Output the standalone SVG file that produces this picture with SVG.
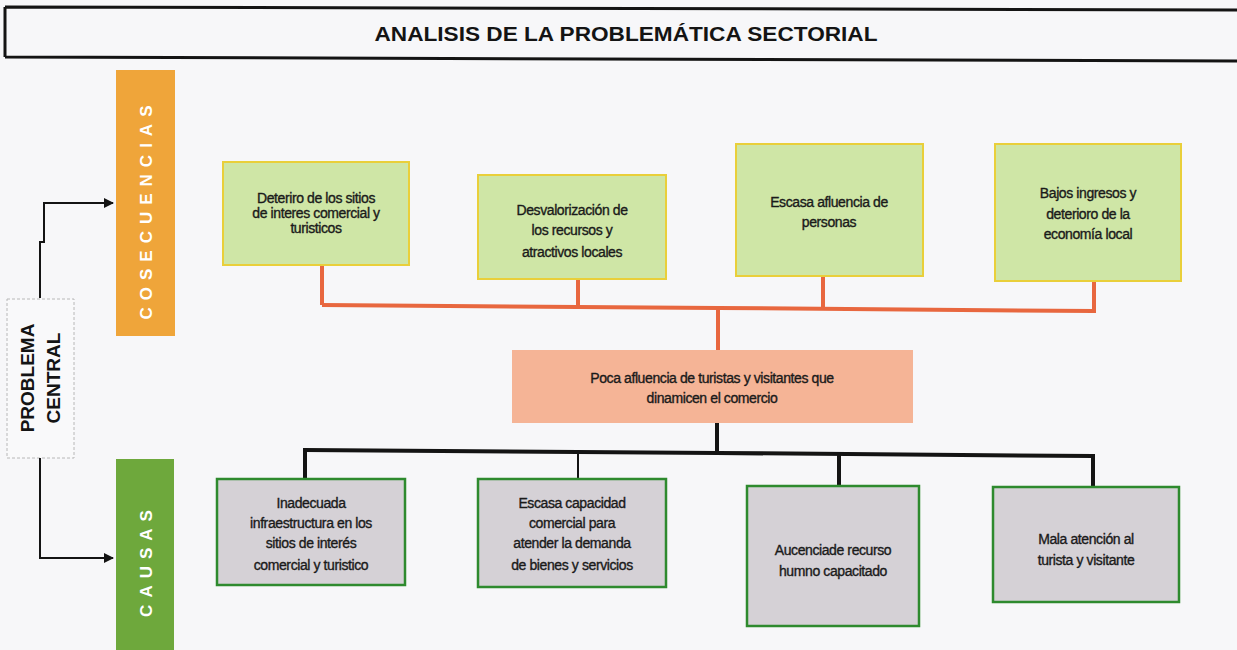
<svg xmlns="http://www.w3.org/2000/svg" width="1237" height="650" viewBox="0 0 1237 650">
<style>
.t{font-family:"Liberation Sans",Arial,sans-serif;font-size:14px;fill:#1a1a1a;stroke:#1a1a1a;stroke-width:0.35px;text-anchor:middle;letter-spacing:-0.4px}
.cons{fill:#CFE6A6;stroke:#E9CF3A;stroke-width:2}
.cause{fill:#D5D1D6;stroke:#2E8A2E;stroke-width:2.5}
.side{font-family:"Liberation Sans",Arial,sans-serif;font-size:17px;font-weight:bold;fill:#ffffff;text-anchor:middle;letter-spacing:7px}
.org{fill:none;stroke:#E8673F;stroke-width:4}
.blk{fill:none;stroke:#141414;stroke-width:4}
.arr{fill:none;stroke:#141414;stroke-width:2}
</style>
<defs>
<marker id="ah" markerWidth="10" markerHeight="10" refX="9" refY="5" orient="auto" markerUnits="userSpaceOnUse">
<path d="M0,0 L10,5 L0,10 z" fill="#141414"/>
</marker>
</defs>
<rect x="0" y="0" width="1237" height="650" fill="#F7F7F9"/>
<g id="title">
<path d="M5,7 L1240,10 M5,57 L1240,61 M5,7 L5,57" fill="none" stroke="#141414" stroke-width="3"/>
<text x="626" y="41" font-family="'Liberation Sans',Arial,sans-serif" font-size="21" font-weight="bold" fill="#141414" text-anchor="middle" textLength="503" lengthAdjust="spacingAndGlyphs">ANALISIS DE LA PROBLEMÁTICA SECTORIAL</text>
</g>
<g id="cosecuencias-bar">
<rect x="116" y="70" width="59" height="266" fill="#EFA53A"/>
<text class="side" transform="translate(152,209) rotate(-90)">COSECUENCIAS</text>
</g>
<g id="causas-bar">
<rect x="116" y="459" width="58" height="191" fill="#6EA83C"/>
<text class="side" transform="translate(152,560) rotate(-90)">CAUSAS</text>
</g>
<g id="problema-central">
<rect x="7" y="299" width="67" height="159" fill="#F9F9FA" stroke="#B8B8B8" stroke-width="1" stroke-dasharray="3,2"/>
<text transform="translate(34,378) rotate(-90)" font-family="'Liberation Sans',Arial,sans-serif" font-size="19" font-weight="bold" fill="#141414" text-anchor="middle">PROBLEMA</text>
<text transform="translate(60,378) rotate(-90)" font-family="'Liberation Sans',Arial,sans-serif" font-size="19" font-weight="bold" fill="#141414" text-anchor="middle">CENTRAL</text>
</g>
<g id="connectors">
<polyline class="arr" points="40,298 40,242 44,242 44,203 113,203" marker-end="url(#ah)"/>
<polyline class="arr" points="40,458 40,558 113,558" marker-end="url(#ah)"/>
<polyline class="org" points="322,305 718,308 1094,311"/>
<line class="org" x1="322" y1="265" x2="322" y2="305"/>
<line class="org" x1="578" y1="279" x2="578" y2="307"/>
<line class="org" x1="823" y1="276" x2="823" y2="310"/>
<line class="org" x1="1094" y1="281" x2="1094" y2="313"/>
<line class="org" x1="718" y1="308" x2="718" y2="350"/>
<line class="blk" x1="717" y1="423" x2="717" y2="453"/>
<polyline class="blk" points="305,450 717,453 1093,456"/>
<line class="blk" x1="305" y1="448" x2="305" y2="479"/>
<line x1="578" y1="451" x2="578" y2="479" stroke="#141414" stroke-width="2"/>
<line class="blk" x1="839" y1="454" x2="839" y2="486"/>
<line class="blk" x1="1093" y1="454" x2="1093" y2="487"/>
</g>
<g id="c1">
<rect class="cons" x="223" y="162" width="186" height="103"/>
<text class="t" x="316" y="203">Deteriro de los sitios</text>
<text class="t" x="316" y="218">de interes comercial y</text>
<text class="t" x="316" y="233">turisticos</text>
</g>
<g id="c2">
<rect class="cons" x="478" y="175" width="188" height="104"/>
<text class="t" x="572" y="215">Desvalorización de</text>
<text class="t" x="572" y="235">los recursos y</text>
<text class="t" x="572" y="257">atractivos locales</text>
</g>
<g id="c3">
<rect class="cons" x="736" y="144" width="187" height="132"/>
<text class="t" x="829" y="207">Escasa afluencia de</text>
<text class="t" x="829" y="227">personas</text>
</g>
<g id="c4">
<rect class="cons" x="995" y="144" width="186" height="137"/>
<text class="t" x="1088" y="198">Bajos ingresos y</text>
<text class="t" x="1088" y="219">deterioro de la</text>
<text class="t" x="1088" y="239">economía local</text>
</g>
<g id="core">
<rect x="512" y="350" width="401" height="73" fill="#F5B496"/>
<text class="t" x="712" y="383">Poca afluencia de turistas y visitantes que</text>
<text class="t" x="712" y="403">dinamicen el comercio</text>
</g>
<g id="k1">
<rect class="cause" x="217" y="479" width="188" height="106"/>
<text class="t" x="311" y="508">Inadecuada</text>
<text class="t" x="311" y="528">infraestructura en los</text>
<text class="t" x="311" y="548">sitios de interés</text>
<text class="t" x="311" y="570">comercial y turistico</text>
</g>
<g id="k2">
<rect class="cause" x="478" y="479" width="188" height="108"/>
<text class="t" x="572" y="508">Escasa capacidad</text>
<text class="t" x="572" y="528">comercial para</text>
<text class="t" x="572" y="548">atender la demanda</text>
<text class="t" x="572" y="570">de bienes y servicios</text>
</g>
<g id="k3">
<rect class="cause" x="747" y="486" width="172" height="140"/>
<text class="t" x="833" y="555">Aucenciade  recurso</text>
<text class="t" x="833" y="576">humno capacitado</text>
</g>
<g id="k4">
<rect class="cause" x="993" y="487" width="186" height="115"/>
<text class="t" x="1086" y="544">Mala atención al</text>
<text class="t" x="1086" y="565">turista y visitante</text>
</g>
</svg>
